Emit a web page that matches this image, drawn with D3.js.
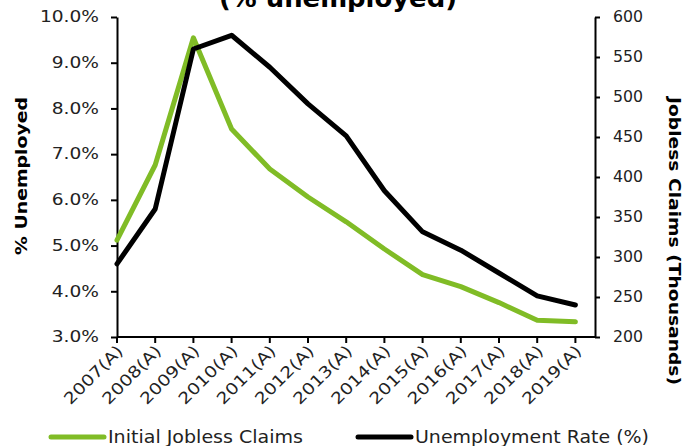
<!DOCTYPE html>
<html>
<head>
<meta charset="utf-8">
<script src="https://cdn.jsdelivr.net/npm/d3@7/dist/d3.min.js"></script>
<style>
  html, body { margin: 0; padding: 0; background: #fff; }
  svg { display: block; font-family: "DejaVu Sans", Verdana, sans-serif; }
</style>
</head>
<body>
<svg id="chart" width="686" height="446"></svg>
<script>
// Years on the category axis
const years = ["2007(A)", "2008(A)", "2009(A)", "2010(A)", "2011(A)", "2012(A)", "2013(A)",
               "2014(A)", "2015(A)", "2016(A)", "2017(A)", "2018(A)", "2019(A)"];
// Unemployment rate, % (left axis)
const unemploymentRate = [4.6, 5.8, 9.3, 9.6, 8.9, 8.1, 7.4, 6.2, 5.3, 4.9, 4.4, 3.9, 3.7];
// Initial jobless claims, thousands (right axis)
const joblessClaims = [321, 415, 574, 460, 410, 375, 344, 310, 278, 263, 243, 221, 219];
// Axis ticks
const leftTicks = [3, 4, 5, 6, 7, 8, 9, 10];
const rightTicks = [200, 250, 300, 350, 400, 450, 500, 550, 600];

const GREEN = "#80bc26";
const TEXT = "#222";
const svg = d3.select("#chart");

// Widen text glyphs by a factor, or to a fixed length
function widen(sel, factor) {
  sel.each(function () {
    const w = this.getComputedTextLength();
    d3.select(this).attr("textLength", w * factor).attr("lengthAdjust", "spacingAndGlyphs");
  });
}
function fitTo(sel, len) {
  sel.attr("textLength", len).attr("lengthAdjust", "spacingAndGlyphs");
}

const plot = { left: 117, right: 595, top: 17, bottom: 337 };
const step = 38.2;

const x = d3.scalePoint().domain(years).range([plot.left, plot.left + step * (years.length - 1)]);
const yL = d3.scaleLinear().domain([3, 10]).range([plot.bottom, plot.top]);
const yR = d3.scaleLinear().domain([200, 600]).range([plot.bottom, plot.top]);

// Left axis
const gL = svg.append("g").attr("transform", `translate(${plot.left},0)`)
  .call(d3.axisLeft(yL).tickValues(leftTicks).tickSize(6).tickSizeOuter(0).tickPadding(12)
    .tickFormat(d => d.toFixed(1) + "%"));

// Right axis
const gR = svg.append("g").attr("transform", `translate(${plot.right},0)`)
  .call(d3.axisRight(yR).tickValues(rightTicks).tickSize(5).tickSizeOuter(0).tickPadding(13));

[gL, gR].forEach(g => {
  g.select(".domain").attr("stroke", "#000").attr("stroke-width", 2);
  g.selectAll(".tick line").attr("stroke", "#000").attr("stroke-width", 2);
  g.selectAll(".tick text").attr("font-size", 15).attr("fill", TEXT)
    .attr("font-family", "DejaVu Sans, Verdana, sans-serif");
});
widen(gL.selectAll(".tick text"), 1.24);
widen(gR.selectAll(".tick text"), 1.05);

// Bottom axis: line spans the full plot width, ticks sit on each category
const gB = svg.append("g").attr("transform", `translate(0,${plot.bottom})`);
gB.append("line").attr("x1", plot.left).attr("x2", plot.right)
  .attr("stroke", "#000").attr("stroke-width", 2);
gB.selectAll(".xt").data(years).enter().append("line")
  .attr("class", "xt")
  .attr("x1", d => x(d)).attr("x2", d => x(d))
  .attr("y1", 0).attr("y2", 6)
  .attr("stroke", "#000").attr("stroke-width", 2);
const xLabels = gB.selectAll(".xl").data(years).enter().append("text")
  .attr("class", "xl")
  .attr("transform", d => `translate(${x(d) + 7},${15}) rotate(-45)`)
  .attr("text-anchor", "end")
  .attr("font-size", 16)
  .attr("fill", TEXT)
  .text(d => d);
widen(xLabels, 1.18);

// Series lines
const lineR = d3.line().x((d, i) => x(years[i])).y(d => yR(d));
const lineL = d3.line().x((d, i) => x(years[i])).y(d => yL(d));

svg.append("path").datum(joblessClaims)
  .attr("d", lineR).attr("fill", "none")
  .attr("stroke", GREEN).attr("stroke-width", 5).attr("stroke-linejoin", "round").attr("stroke-linecap", "round");
svg.append("path").datum(unemploymentRate)
  .attr("d", lineL).attr("fill", "none")
  .attr("stroke", "#000").attr("stroke-width", 5).attr("stroke-linejoin", "round").attr("stroke-linecap", "round");

// Title (its upper part runs past the top edge)
svg.append("text").attr("x", 338).attr("y", 7)
  .attr("text-anchor", "middle").attr("font-size", 24).attr("font-weight", "bold")
  .call(fitTo, 238)
  .text("(% unemployed)");

// Axis titles
svg.append("text")
  .attr("transform", "translate(27,176) rotate(-90)")
  .attr("text-anchor", "middle").attr("font-size", 15).attr("font-weight", "bold")
  .call(fitTo, 158)
  .text("% Unemployed");
svg.append("text")
  .attr("transform", "translate(669,241) rotate(90)")
  .attr("text-anchor", "middle").attr("font-size", 15).attr("font-weight", "bold")
  .call(fitTo, 288)
  .text("Jobless Claims (Thousands)");

// Legend
const legend = [
  { label: "Initial Jobless Claims", color: GREEN, x: 51, len: 195 },
  { label: "Unemployment Rate (%)", color: "#000", x: 358, len: 234 }
];
const lg = svg.append("g").selectAll("g").data(legend).enter().append("g")
  .attr("transform", d => `translate(${d.x},437)`);
lg.append("line").attr("x1", 0).attr("x2", 53).attr("y1", 0).attr("y2", 0)
  .attr("stroke", d => d.color).attr("stroke-width", 5).attr("stroke-linecap", "round");
lg.append("text").attr("x", 57).attr("y", 6).attr("font-size", 18).attr("fill", TEXT)
  .attr("textLength", d => d.len).attr("lengthAdjust", "spacingAndGlyphs")
  .text(d => d.label);
</script>
</body>
</html>
